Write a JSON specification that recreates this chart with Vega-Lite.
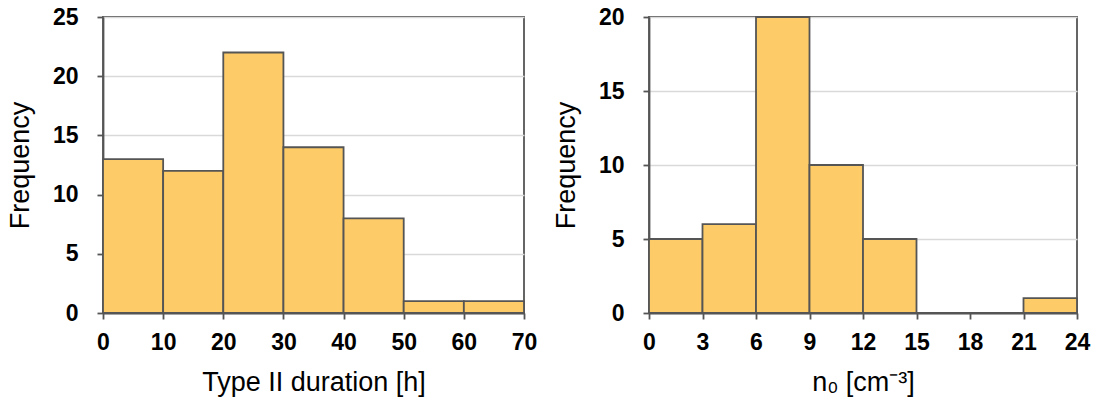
{
  "$schema": "https://vega.github.io/schema/vega-lite/v6.json",
  "background": "white",
  "padding": {"left": 5, "top": 5, "right": 5, "bottom": 5},
  "spacing": 13,
  "datasets": {
    "duration": [
      {"bin_start": 0, "bin_end": 10, "count": 13},
      {"bin_start": 10, "bin_end": 20, "count": 12},
      {"bin_start": 20, "bin_end": 30, "count": 22},
      {"bin_start": 30, "bin_end": 40, "count": 14},
      {"bin_start": 40, "bin_end": 50, "count": 8},
      {"bin_start": 50, "bin_end": 60, "count": 1},
      {"bin_start": 60, "bin_end": 70, "count": 1}
    ],
    "density": [
      {"bin_start": 0, "bin_end": 3, "count": 5},
      {"bin_start": 3, "bin_end": 6, "count": 6},
      {"bin_start": 6, "bin_end": 9, "count": 20},
      {"bin_start": 9, "bin_end": 12, "count": 10},
      {"bin_start": 12, "bin_end": 15, "count": 5},
      {"bin_start": 15, "bin_end": 18, "count": 0},
      {"bin_start": 18, "bin_end": 21, "count": 0},
      {"bin_start": 21, "bin_end": 24, "count": 1}
    ]
  },
  "hconcat": [
    {
      "width": 421,
      "height": 296,
      "data": {"name": "duration"},
      "mark": {"type": "rect", "fill": "#FDCB67", "stroke": "#555555", "strokeWidth": 1.8},
      "encoding": {
        "x": {
          "field": "bin_start", "type": "quantitative",
          "scale": {"domain": [0, 70], "nice": false},
          "axis": {"values": [0, 10, 20, 30, 40, 50, 60, 70], "title": "Type II duration [h]", "grid": false}
        },
        "x2": {"field": "bin_end"},
        "y": {
          "field": "count", "type": "quantitative",
          "scale": {"domain": [0, 25], "nice": false},
          "axis": {"values": [0, 5, 10, 15, 20, 25], "title": "Frequency"}
        }
      }
    },
    {
      "width": 428,
      "height": 296,
      "data": {"name": "density"},
      "mark": {"type": "rect", "fill": "#FDCB67", "stroke": "#555555", "strokeWidth": 1.8},
      "encoding": {
        "x": {
          "field": "bin_start", "type": "quantitative",
          "scale": {"domain": [0, 24], "nice": false},
          "axis": {"values": [0, 3, 6, 9, 12, 15, 18, 21, 24], "title": "n₀ [cm⁻³]", "grid": false}
        },
        "x2": {"field": "bin_end"},
        "y": {
          "field": "count", "type": "quantitative",
          "scale": {"domain": [0, 20], "nice": false},
          "axis": {"values": [0, 5, 10, 15, 20], "title": "Frequency"}
        }
      }
    }
  ],
  "config": {
    "view": {"stroke": "#555555", "strokeWidth": 1.8},
    "axis": {
      "labelFont": "Liberation Sans",
      "labelFontSize": 23,
      "labelFontWeight": "bold",
      "labelColor": "#000000",
      "titleFont": "Liberation Sans",
      "titleFontSize": 27,
      "titleFontWeight": "normal",
      "titleColor": "#000000",
      "tickColor": "#555555",
      "tickSize": 6,
      "tickWidth": 1.8,
      "domainColor": "#555555",
      "domainWidth": 1.8,
      "gridColor": "#D9D9D9",
      "gridWidth": 1.5,
      "labelOverlap": false,
      "labelFlush": false
    },
    "axisY": {"labelPadding": 19, "titlePadding": 18},
    "axisX": {"labelPadding": 12, "titlePadding": 15}
  }
}
